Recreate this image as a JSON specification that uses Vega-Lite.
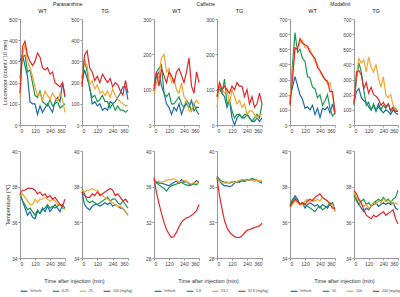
{
"$schema":"https://vega.github.io/schema/vega-lite/v6.json",
"padding":{"left":2,"top":1,"right":2,"bottom":0},
"config":{"font":"Liberation Sans","view":{"stroke":null},
"axis":{"grid":false,"labelFontSize":5,"titleFontSize":5.5,"titleFontWeight":"normal","domainColor":"#999","tickColor":"#999","tickSize":2,"labelColor":"#444","titleColor":"#333","labelPadding":1,"titlePadding":1},
"title":{"fontSize":5.5,"fontWeight":"normal","offset":3,"color":"#222","anchor":"middle"},
"legend":{"labelFontSize":3.6,"symbolType":"stroke","symbolStrokeWidth":1.5,"symbolSize":45,"columnPadding":8,"labelOffset":2,"padding":0,"offset":3,"labelColor":"#444"},
"line":{"strokeWidth":1.2}},
"data":{"values":[
{"d":"P","g":"WT","s":"Vehicle","t":0,"L":300,"T":37.6},{"d":"P","g":"WT","s":"Vehicle","t":20,"L":330,"T":37.2},{"d":"P","g":"WT","s":"Vehicle","t":40,"L":280,"T":36.8},{"d":"P","g":"WT","s":"Vehicle","t":60,"L":230,"T":36.4},{"d":"P","g":"WT","s":"Vehicle","t":80,"L":110,"T":36.6},{"d":"P","g":"WT","s":"Vehicle","t":100,"L":100,"T":36.3},{"d":"P","g":"WT","s":"Vehicle","t":120,"L":100,"T":36.2},{"d":"P","g":"WT","s":"Vehicle","t":140,"L":50,"T":36.6},{"d":"P","g":"WT","s":"Vehicle","t":160,"L":90,"T":36.5},{"d":"P","g":"WT","s":"Vehicle","t":180,"L":60,"T":36.8},{"d":"P","g":"WT","s":"Vehicle","t":200,"L":80,"T":36.6},{"d":"P","g":"WT","s":"Vehicle","t":220,"L":100,"T":36.9},{"d":"P","g":"WT","s":"Vehicle","t":240,"L":80,"T":36.6},{"d":"P","g":"WT","s":"Vehicle","t":260,"L":60,"T":36.8},{"d":"P","g":"WT","s":"Vehicle","t":280,"L":110,"T":37.0},{"d":"P","g":"WT","s":"Vehicle","t":300,"L":130,"T":36.8},{"d":"P","g":"WT","s":"Vehicle","t":320,"L":110,"T":36.6},{"d":"P","g":"WT","s":"Vehicle","t":340,"L":200,"T":37.0},{"d":"P","g":"WT","s":"Vehicle","t":360,"L":130,"T":36.8},
{"d":"P","g":"WT","s":"6.25","t":0,"L":220,"T":37.6},{"d":"P","g":"WT","s":"6.25","t":20,"L":320,"T":37.2},{"d":"P","g":"WT","s":"6.25","t":40,"L":330,"T":37.0},{"d":"P","g":"WT","s":"6.25","t":60,"L":250,"T":36.7},{"d":"P","g":"WT","s":"6.25","t":80,"L":260,"T":36.8},{"d":"P","g":"WT","s":"6.25","t":100,"L":200,"T":36.6},{"d":"P","g":"WT","s":"6.25","t":120,"L":140,"T":36.4},{"d":"P","g":"WT","s":"6.25","t":140,"L":130,"T":36.7},{"d":"P","g":"WT","s":"6.25","t":160,"L":160,"T":36.5},{"d":"P","g":"WT","s":"6.25","t":180,"L":110,"T":36.7},{"d":"P","g":"WT","s":"6.25","t":200,"L":100,"T":36.8},{"d":"P","g":"WT","s":"6.25","t":220,"L":90,"T":37.0},{"d":"P","g":"WT","s":"6.25","t":240,"L":120,"T":36.8},{"d":"P","g":"WT","s":"6.25","t":260,"L":90,"T":36.9},{"d":"P","g":"WT","s":"6.25","t":280,"L":100,"T":36.8},{"d":"P","g":"WT","s":"6.25","t":300,"L":110,"T":36.9},{"d":"P","g":"WT","s":"6.25","t":320,"L":80,"T":37.0},{"d":"P","g":"WT","s":"6.25","t":340,"L":90,"T":36.8},{"d":"P","g":"WT","s":"6.25","t":360,"L":100,"T":36.8},
{"d":"P","g":"WT","s":"25","t":0,"L":130,"T":37.5},{"d":"P","g":"WT","s":"25","t":20,"L":330,"T":37.6},{"d":"P","g":"WT","s":"25","t":40,"L":380,"T":37.4},{"d":"P","g":"WT","s":"25","t":60,"L":300,"T":37.2},{"d":"P","g":"WT","s":"25","t":80,"L":270,"T":37.0},{"d":"P","g":"WT","s":"25","t":100,"L":230,"T":37.0},{"d":"P","g":"WT","s":"25","t":120,"L":180,"T":37.3},{"d":"P","g":"WT","s":"25","t":140,"L":140,"T":37.1},{"d":"P","g":"WT","s":"25","t":160,"L":150,"T":37.3},{"d":"P","g":"WT","s":"25","t":180,"L":120,"T":37.3},{"d":"P","g":"WT","s":"25","t":200,"L":160,"T":37.4},{"d":"P","g":"WT","s":"25","t":220,"L":140,"T":37.3},{"d":"P","g":"WT","s":"25","t":240,"L":120,"T":37.2},{"d":"P","g":"WT","s":"25","t":260,"L":150,"T":37.3},{"d":"P","g":"WT","s":"25","t":280,"L":130,"T":37.2},{"d":"P","g":"WT","s":"25","t":300,"L":110,"T":37.0},{"d":"P","g":"WT","s":"25","t":320,"L":150,"T":37.0},{"d":"P","g":"WT","s":"25","t":340,"L":120,"T":36.9},{"d":"P","g":"WT","s":"25","t":360,"L":60,"T":36.7},
{"d":"P","g":"WT","s":"100 (mg/kg)","t":0,"L":150,"T":37.6},{"d":"P","g":"WT","s":"100 (mg/kg)","t":20,"L":370,"T":37.8},{"d":"P","g":"WT","s":"100 (mg/kg)","t":40,"L":395,"T":37.8},{"d":"P","g":"WT","s":"100 (mg/kg)","t":60,"L":330,"T":37.9},{"d":"P","g":"WT","s":"100 (mg/kg)","t":80,"L":300,"T":37.9},{"d":"P","g":"WT","s":"100 (mg/kg)","t":100,"L":280,"T":37.9},{"d":"P","g":"WT","s":"100 (mg/kg)","t":120,"L":300,"T":37.8},{"d":"P","g":"WT","s":"100 (mg/kg)","t":140,"L":340,"T":37.6},{"d":"P","g":"WT","s":"100 (mg/kg)","t":160,"L":320,"T":37.7},{"d":"P","g":"WT","s":"100 (mg/kg)","t":180,"L":270,"T":37.5},{"d":"P","g":"WT","s":"100 (mg/kg)","t":200,"L":260,"T":37.6},{"d":"P","g":"WT","s":"100 (mg/kg)","t":220,"L":270,"T":37.4},{"d":"P","g":"WT","s":"100 (mg/kg)","t":240,"L":240,"T":37.5},{"d":"P","g":"WT","s":"100 (mg/kg)","t":260,"L":250,"T":37.3},{"d":"P","g":"WT","s":"100 (mg/kg)","t":280,"L":200,"T":37.4},{"d":"P","g":"WT","s":"100 (mg/kg)","t":300,"L":190,"T":37.2},{"d":"P","g":"WT","s":"100 (mg/kg)","t":320,"L":180,"T":37.0},{"d":"P","g":"WT","s":"100 (mg/kg)","t":340,"L":200,"T":36.9},{"d":"P","g":"WT","s":"100 (mg/kg)","t":360,"L":140,"T":37.3},
{"d":"P","g":"TG","s":"Vehicle","t":0,"L":200,"T":37.7},{"d":"P","g":"TG","s":"Vehicle","t":20,"L":260,"T":37.0},{"d":"P","g":"TG","s":"Vehicle","t":40,"L":220,"T":36.8},{"d":"P","g":"TG","s":"Vehicle","t":60,"L":180,"T":36.7},{"d":"P","g":"TG","s":"Vehicle","t":80,"L":100,"T":36.9},{"d":"P","g":"TG","s":"Vehicle","t":100,"L":110,"T":37.0},{"d":"P","g":"TG","s":"Vehicle","t":120,"L":90,"T":37.0},{"d":"P","g":"TG","s":"Vehicle","t":140,"L":100,"T":36.9},{"d":"P","g":"TG","s":"Vehicle","t":160,"L":70,"T":37.0},{"d":"P","g":"TG","s":"Vehicle","t":180,"L":80,"T":37.1},{"d":"P","g":"TG","s":"Vehicle","t":200,"L":70,"T":37.0},{"d":"P","g":"TG","s":"Vehicle","t":220,"L":110,"T":37.1},{"d":"P","g":"TG","s":"Vehicle","t":240,"L":100,"T":36.9},{"d":"P","g":"TG","s":"Vehicle","t":260,"L":110,"T":37.0},{"d":"P","g":"TG","s":"Vehicle","t":280,"L":130,"T":36.9},{"d":"P","g":"TG","s":"Vehicle","t":300,"L":150,"T":36.8},{"d":"P","g":"TG","s":"Vehicle","t":320,"L":180,"T":36.8},{"d":"P","g":"TG","s":"Vehicle","t":340,"L":180,"T":36.6},{"d":"P","g":"TG","s":"Vehicle","t":360,"L":120,"T":36.4},
{"d":"P","g":"TG","s":"6.25","t":0,"L":220,"T":37.9},{"d":"P","g":"TG","s":"6.25","t":20,"L":310,"T":37.6},{"d":"P","g":"TG","s":"6.25","t":40,"L":250,"T":37.2},{"d":"P","g":"TG","s":"6.25","t":60,"L":170,"T":37.1},{"d":"P","g":"TG","s":"6.25","t":80,"L":130,"T":37.2},{"d":"P","g":"TG","s":"6.25","t":100,"L":140,"T":37.1},{"d":"P","g":"TG","s":"6.25","t":120,"L":110,"T":37.0},{"d":"P","g":"TG","s":"6.25","t":140,"L":120,"T":37.1},{"d":"P","g":"TG","s":"6.25","t":160,"L":140,"T":37.2},{"d":"P","g":"TG","s":"6.25","t":180,"L":110,"T":37.3},{"d":"P","g":"TG","s":"6.25","t":200,"L":110,"T":37.4},{"d":"P","g":"TG","s":"6.25","t":220,"L":80,"T":37.2},{"d":"P","g":"TG","s":"6.25","t":240,"L":100,"T":37.3},{"d":"P","g":"TG","s":"6.25","t":260,"L":70,"T":37.3},{"d":"P","g":"TG","s":"6.25","t":280,"L":90,"T":37.1},{"d":"P","g":"TG","s":"6.25","t":300,"L":70,"T":37.0},{"d":"P","g":"TG","s":"6.25","t":320,"L":70,"T":37.2},{"d":"P","g":"TG","s":"6.25","t":340,"L":60,"T":37.0},{"d":"P","g":"TG","s":"6.25","t":360,"L":70,"T":36.8},
{"d":"P","g":"TG","s":"25","t":0,"L":230,"T":37.8},{"d":"P","g":"TG","s":"25","t":20,"L":300,"T":37.7},{"d":"P","g":"TG","s":"25","t":40,"L":280,"T":37.8},{"d":"P","g":"TG","s":"25","t":60,"L":190,"T":37.8},{"d":"P","g":"TG","s":"25","t":80,"L":210,"T":37.9},{"d":"P","g":"TG","s":"25","t":100,"L":170,"T":37.8},{"d":"P","g":"TG","s":"25","t":120,"L":190,"T":37.8},{"d":"P","g":"TG","s":"25","t":140,"L":150,"T":37.6},{"d":"P","g":"TG","s":"25","t":160,"L":160,"T":37.5},{"d":"P","g":"TG","s":"25","t":180,"L":140,"T":37.4},{"d":"P","g":"TG","s":"25","t":200,"L":160,"T":37.3},{"d":"P","g":"TG","s":"25","t":220,"L":130,"T":37.2},{"d":"P","g":"TG","s":"25","t":240,"L":170,"T":37.1},{"d":"P","g":"TG","s":"25","t":260,"L":140,"T":37.0},{"d":"P","g":"TG","s":"25","t":280,"L":120,"T":36.9},{"d":"P","g":"TG","s":"25","t":300,"L":110,"T":36.9},{"d":"P","g":"TG","s":"25","t":320,"L":100,"T":36.8},{"d":"P","g":"TG","s":"25","t":340,"L":90,"T":36.6},{"d":"P","g":"TG","s":"25","t":360,"L":90,"T":36.4},
{"d":"P","g":"TG","s":"100 (mg/kg)","t":0,"L":180,"T":37.7},{"d":"P","g":"TG","s":"100 (mg/kg)","t":20,"L":330,"T":37.5},{"d":"P","g":"TG","s":"100 (mg/kg)","t":40,"L":350,"T":37.4},{"d":"P","g":"TG","s":"100 (mg/kg)","t":60,"L":270,"T":37.4},{"d":"P","g":"TG","s":"100 (mg/kg)","t":80,"L":250,"T":37.6},{"d":"P","g":"TG","s":"100 (mg/kg)","t":100,"L":210,"T":37.5},{"d":"P","g":"TG","s":"100 (mg/kg)","t":120,"L":230,"T":37.7},{"d":"P","g":"TG","s":"100 (mg/kg)","t":140,"L":200,"T":37.5},{"d":"P","g":"TG","s":"100 (mg/kg)","t":160,"L":240,"T":37.6},{"d":"P","g":"TG","s":"100 (mg/kg)","t":180,"L":220,"T":37.7},{"d":"P","g":"TG","s":"100 (mg/kg)","t":200,"L":200,"T":37.8},{"d":"P","g":"TG","s":"100 (mg/kg)","t":220,"L":220,"T":37.9},{"d":"P","g":"TG","s":"100 (mg/kg)","t":240,"L":180,"T":37.8},{"d":"P","g":"TG","s":"100 (mg/kg)","t":260,"L":200,"T":37.5},{"d":"P","g":"TG","s":"100 (mg/kg)","t":280,"L":190,"T":37.6},{"d":"P","g":"TG","s":"100 (mg/kg)","t":300,"L":160,"T":37.4},{"d":"P","g":"TG","s":"100 (mg/kg)","t":320,"L":140,"T":37.2},{"d":"P","g":"TG","s":"100 (mg/kg)","t":340,"L":210,"T":37.3},{"d":"P","g":"TG","s":"100 (mg/kg)","t":360,"L":150,"T":37.1},
{"d":"C","g":"WT","s":"Vehicle","t":0,"L":100,"T":36.8},{"d":"C","g":"WT","s":"Vehicle","t":20,"L":140,"T":36.5},{"d":"C","g":"WT","s":"Vehicle","t":40,"L":150,"T":36.4},{"d":"C","g":"WT","s":"Vehicle","t":60,"L":110,"T":36.4},{"d":"C","g":"WT","s":"Vehicle","t":80,"L":90,"T":36.3},{"d":"C","g":"WT","s":"Vehicle","t":100,"L":60,"T":36.2},{"d":"C","g":"WT","s":"Vehicle","t":120,"L":50,"T":36.1},{"d":"C","g":"WT","s":"Vehicle","t":140,"L":30,"T":36.3},{"d":"C","g":"WT","s":"Vehicle","t":160,"L":50,"T":36.5},{"d":"C","g":"WT","s":"Vehicle","t":180,"L":40,"T":36.6},{"d":"C","g":"WT","s":"Vehicle","t":200,"L":60,"T":36.4},{"d":"C","g":"WT","s":"Vehicle","t":220,"L":30,"T":36.8},{"d":"C","g":"WT","s":"Vehicle","t":240,"L":50,"T":36.5},{"d":"C","g":"WT","s":"Vehicle","t":260,"L":60,"T":36.6},{"d":"C","g":"WT","s":"Vehicle","t":280,"L":50,"T":36.3},{"d":"C","g":"WT","s":"Vehicle","t":300,"L":70,"T":36.2},{"d":"C","g":"WT","s":"Vehicle","t":320,"L":40,"T":36.4},{"d":"C","g":"WT","s":"Vehicle","t":340,"L":50,"T":36.7},{"d":"C","g":"WT","s":"Vehicle","t":360,"L":50,"T":36.5},
{"d":"C","g":"WT","s":"5.8","t":0,"L":110,"T":36.8},{"d":"C","g":"WT","s":"5.8","t":20,"L":150,"T":36.4},{"d":"C","g":"WT","s":"5.8","t":40,"L":160,"T":36.2},{"d":"C","g":"WT","s":"5.8","t":60,"L":170,"T":36.0},{"d":"C","g":"WT","s":"5.8","t":80,"L":90,"T":35.8},{"d":"C","g":"WT","s":"5.8","t":100,"L":80,"T":35.5},{"d":"C","g":"WT","s":"5.8","t":120,"L":90,"T":35.9},{"d":"C","g":"WT","s":"5.8","t":140,"L":60,"T":36.1},{"d":"C","g":"WT","s":"5.8","t":160,"L":60,"T":36.2},{"d":"C","g":"WT","s":"5.8","t":180,"L":70,"T":36.3},{"d":"C","g":"WT","s":"5.8","t":200,"L":80,"T":36.4},{"d":"C","g":"WT","s":"5.8","t":220,"L":60,"T":36.5},{"d":"C","g":"WT","s":"5.8","t":240,"L":50,"T":36.3},{"d":"C","g":"WT","s":"5.8","t":260,"L":70,"T":36.2},{"d":"C","g":"WT","s":"5.8","t":280,"L":60,"T":36.1},{"d":"C","g":"WT","s":"5.8","t":300,"L":40,"T":36.2},{"d":"C","g":"WT","s":"5.8","t":320,"L":60,"T":36.3},{"d":"C","g":"WT","s":"5.8","t":340,"L":40,"T":36.2},{"d":"C","g":"WT","s":"5.8","t":360,"L":30,"T":36.5},
{"d":"C","g":"WT","s":"23.2","t":0,"L":90,"T":36.8},{"d":"C","g":"WT","s":"23.2","t":20,"L":120,"T":36.6},{"d":"C","g":"WT","s":"23.2","t":40,"L":140,"T":36.6},{"d":"C","g":"WT","s":"23.2","t":60,"L":190,"T":36.5},{"d":"C","g":"WT","s":"23.2","t":80,"L":200,"T":36.6},{"d":"C","g":"WT","s":"23.2","t":100,"L":150,"T":36.7},{"d":"C","g":"WT","s":"23.2","t":120,"L":160,"T":36.8},{"d":"C","g":"WT","s":"23.2","t":140,"L":120,"T":36.8},{"d":"C","g":"WT","s":"23.2","t":160,"L":130,"T":36.9},{"d":"C","g":"WT","s":"23.2","t":180,"L":100,"T":36.7},{"d":"C","g":"WT","s":"23.2","t":200,"L":90,"T":36.5},{"d":"C","g":"WT","s":"23.2","t":220,"L":120,"T":36.6},{"d":"C","g":"WT","s":"23.2","t":240,"L":80,"T":36.7},{"d":"C","g":"WT","s":"23.2","t":260,"L":70,"T":36.6},{"d":"C","g":"WT","s":"23.2","t":280,"L":40,"T":36.4},{"d":"C","g":"WT","s":"23.2","t":300,"L":40,"T":36.3},{"d":"C","g":"WT","s":"23.2","t":320,"L":60,"T":36.5},{"d":"C","g":"WT","s":"23.2","t":340,"L":70,"T":36.4},{"d":"C","g":"WT","s":"23.2","t":360,"L":60,"T":36.4},
{"d":"C","g":"WT","s":"92.8 (mg/kg)","t":0,"L":100,"T":37.0},{"d":"C","g":"WT","s":"92.8 (mg/kg)","t":20,"L":150,"T":35.3},{"d":"C","g":"WT","s":"92.8 (mg/kg)","t":40,"L":110,"T":34.1},{"d":"C","g":"WT","s":"92.8 (mg/kg)","t":60,"L":160,"T":33.0},{"d":"C","g":"WT","s":"92.8 (mg/kg)","t":80,"L":140,"T":32.0},{"d":"C","g":"WT","s":"92.8 (mg/kg)","t":100,"L":120,"T":31.2},{"d":"C","g":"WT","s":"92.8 (mg/kg)","t":120,"L":150,"T":30.7},{"d":"C","g":"WT","s":"92.8 (mg/kg)","t":140,"L":140,"T":30.3},{"d":"C","g":"WT","s":"92.8 (mg/kg)","t":160,"L":120,"T":30.4},{"d":"C","g":"WT","s":"92.8 (mg/kg)","t":180,"L":150,"T":30.9},{"d":"C","g":"WT","s":"92.8 (mg/kg)","t":200,"L":160,"T":31.5},{"d":"C","g":"WT","s":"92.8 (mg/kg)","t":220,"L":140,"T":32.0},{"d":"C","g":"WT","s":"92.8 (mg/kg)","t":240,"L":120,"T":32.3},{"d":"C","g":"WT","s":"92.8 (mg/kg)","t":260,"L":150,"T":32.5},{"d":"C","g":"WT","s":"92.8 (mg/kg)","t":280,"L":190,"T":32.6},{"d":"C","g":"WT","s":"92.8 (mg/kg)","t":300,"L":110,"T":32.8},{"d":"C","g":"WT","s":"92.8 (mg/kg)","t":320,"L":90,"T":33.0},{"d":"C","g":"WT","s":"92.8 (mg/kg)","t":340,"L":150,"T":33.3},{"d":"C","g":"WT","s":"92.8 (mg/kg)","t":360,"L":120,"T":34.0},
{"d":"C","g":"TG","s":"Vehicle","t":0,"L":100,"T":37.0},{"d":"C","g":"TG","s":"Vehicle","t":20,"L":100,"T":36.6},{"d":"C","g":"TG","s":"Vehicle","t":40,"L":90,"T":36.3},{"d":"C","g":"TG","s":"Vehicle","t":60,"L":80,"T":36.1},{"d":"C","g":"TG","s":"Vehicle","t":80,"L":50,"T":36.1},{"d":"C","g":"TG","s":"Vehicle","t":100,"L":70,"T":36.0},{"d":"C","g":"TG","s":"Vehicle","t":120,"L":20,"T":36.1},{"d":"C","g":"TG","s":"Vehicle","t":140,"L":0,"T":36.4},{"d":"C","g":"TG","s":"Vehicle","t":160,"L":20,"T":36.6},{"d":"C","g":"TG","s":"Vehicle","t":180,"L":30,"T":36.5},{"d":"C","g":"TG","s":"Vehicle","t":200,"L":20,"T":36.7},{"d":"C","g":"TG","s":"Vehicle","t":220,"L":20,"T":36.6},{"d":"C","g":"TG","s":"Vehicle","t":240,"L":30,"T":36.8},{"d":"C","g":"TG","s":"Vehicle","t":260,"L":20,"T":36.7},{"d":"C","g":"TG","s":"Vehicle","t":280,"L":10,"T":36.9},{"d":"C","g":"TG","s":"Vehicle","t":300,"L":10,"T":36.8},{"d":"C","g":"TG","s":"Vehicle","t":320,"L":20,"T":36.7},{"d":"C","g":"TG","s":"Vehicle","t":340,"L":10,"T":36.6},{"d":"C","g":"TG","s":"Vehicle","t":360,"L":20,"T":36.5},
{"d":"C","g":"TG","s":"5.8","t":0,"L":80,"T":37.2},{"d":"C","g":"TG","s":"5.8","t":20,"L":110,"T":36.8},{"d":"C","g":"TG","s":"5.8","t":40,"L":90,"T":36.6},{"d":"C","g":"TG","s":"5.8","t":60,"L":130,"T":36.5},{"d":"C","g":"TG","s":"5.8","t":80,"L":60,"T":36.5},{"d":"C","g":"TG","s":"5.8","t":100,"L":70,"T":36.4},{"d":"C","g":"TG","s":"5.8","t":120,"L":40,"T":36.5},{"d":"C","g":"TG","s":"5.8","t":140,"L":20,"T":36.6},{"d":"C","g":"TG","s":"5.8","t":160,"L":30,"T":36.5},{"d":"C","g":"TG","s":"5.8","t":180,"L":30,"T":36.6},{"d":"C","g":"TG","s":"5.8","t":200,"L":20,"T":36.7},{"d":"C","g":"TG","s":"5.8","t":220,"L":30,"T":36.6},{"d":"C","g":"TG","s":"5.8","t":240,"L":30,"T":36.7},{"d":"C","g":"TG","s":"5.8","t":260,"L":20,"T":36.8},{"d":"C","g":"TG","s":"5.8","t":280,"L":10,"T":36.9},{"d":"C","g":"TG","s":"5.8","t":300,"L":20,"T":36.8},{"d":"C","g":"TG","s":"5.8","t":320,"L":30,"T":36.7},{"d":"C","g":"TG","s":"5.8","t":340,"L":20,"T":36.5},{"d":"C","g":"TG","s":"5.8","t":360,"L":60,"T":36.4},
{"d":"C","g":"TG","s":"23.2","t":0,"L":50,"T":37.0},{"d":"C","g":"TG","s":"23.2","t":20,"L":120,"T":36.6},{"d":"C","g":"TG","s":"23.2","t":40,"L":100,"T":36.5},{"d":"C","g":"TG","s":"23.2","t":60,"L":90,"T":36.4},{"d":"C","g":"TG","s":"23.2","t":80,"L":100,"T":36.4},{"d":"C","g":"TG","s":"23.2","t":100,"L":60,"T":36.5},{"d":"C","g":"TG","s":"23.2","t":120,"L":100,"T":36.6},{"d":"C","g":"TG","s":"23.2","t":140,"L":80,"T":36.5},{"d":"C","g":"TG","s":"23.2","t":160,"L":60,"T":36.6},{"d":"C","g":"TG","s":"23.2","t":180,"L":70,"T":36.7},{"d":"C","g":"TG","s":"23.2","t":200,"L":50,"T":36.8},{"d":"C","g":"TG","s":"23.2","t":220,"L":60,"T":36.8},{"d":"C","g":"TG","s":"23.2","t":240,"L":30,"T":36.7},{"d":"C","g":"TG","s":"23.2","t":260,"L":40,"T":36.8},{"d":"C","g":"TG","s":"23.2","t":280,"L":40,"T":36.7},{"d":"C","g":"TG","s":"23.2","t":300,"L":30,"T":36.6},{"d":"C","g":"TG","s":"23.2","t":320,"L":20,"T":36.7},{"d":"C","g":"TG","s":"23.2","t":340,"L":30,"T":36.6},{"d":"C","g":"TG","s":"23.2","t":360,"L":30,"T":36.7},
{"d":"C","g":"TG","s":"92.8 (mg/kg)","t":0,"L":80,"T":37.0},{"d":"C","g":"TG","s":"92.8 (mg/kg)","t":20,"L":120,"T":35.0},{"d":"C","g":"TG","s":"92.8 (mg/kg)","t":40,"L":100,"T":33.5},{"d":"C","g":"TG","s":"92.8 (mg/kg)","t":60,"L":110,"T":32.2},{"d":"C","g":"TG","s":"92.8 (mg/kg)","t":80,"L":100,"T":31.4},{"d":"C","g":"TG","s":"92.8 (mg/kg)","t":100,"L":90,"T":30.9},{"d":"C","g":"TG","s":"92.8 (mg/kg)","t":120,"L":110,"T":30.6},{"d":"C","g":"TG","s":"92.8 (mg/kg)","t":140,"L":100,"T":30.4},{"d":"C","g":"TG","s":"92.8 (mg/kg)","t":160,"L":120,"T":30.3},{"d":"C","g":"TG","s":"92.8 (mg/kg)","t":180,"L":110,"T":30.3},{"d":"C","g":"TG","s":"92.8 (mg/kg)","t":200,"L":110,"T":30.5},{"d":"C","g":"TG","s":"92.8 (mg/kg)","t":220,"L":80,"T":30.8},{"d":"C","g":"TG","s":"92.8 (mg/kg)","t":240,"L":100,"T":31.1},{"d":"C","g":"TG","s":"92.8 (mg/kg)","t":260,"L":60,"T":31.2},{"d":"C","g":"TG","s":"92.8 (mg/kg)","t":280,"L":80,"T":31.3},{"d":"C","g":"TG","s":"92.8 (mg/kg)","t":300,"L":50,"T":31.4},{"d":"C","g":"TG","s":"92.8 (mg/kg)","t":320,"L":60,"T":31.5},{"d":"C","g":"TG","s":"92.8 (mg/kg)","t":340,"L":90,"T":31.6},{"d":"C","g":"TG","s":"92.8 (mg/kg)","t":360,"L":60,"T":31.9},
{"d":"M","g":"WT","s":"Vehicle","t":0,"L":180,"T":36.9},{"d":"M","g":"WT","s":"Vehicle","t":20,"L":250,"T":37.2},{"d":"M","g":"WT","s":"Vehicle","t":40,"L":320,"T":37.5},{"d":"M","g":"WT","s":"Vehicle","t":60,"L":260,"T":37.3},{"d":"M","g":"WT","s":"Vehicle","t":80,"L":200,"T":37.0},{"d":"M","g":"WT","s":"Vehicle","t":100,"L":170,"T":37.1},{"d":"M","g":"WT","s":"Vehicle","t":120,"L":110,"T":36.8},{"d":"M","g":"WT","s":"Vehicle","t":140,"L":120,"T":37.0},{"d":"M","g":"WT","s":"Vehicle","t":160,"L":100,"T":37.1},{"d":"M","g":"WT","s":"Vehicle","t":180,"L":130,"T":37.0},{"d":"M","g":"WT","s":"Vehicle","t":200,"L":70,"T":36.9},{"d":"M","g":"WT","s":"Vehicle","t":220,"L":110,"T":37.0},{"d":"M","g":"WT","s":"Vehicle","t":240,"L":50,"T":36.8},{"d":"M","g":"WT","s":"Vehicle","t":260,"L":110,"T":37.0},{"d":"M","g":"WT","s":"Vehicle","t":280,"L":100,"T":36.9},{"d":"M","g":"WT","s":"Vehicle","t":300,"L":120,"T":36.8},{"d":"M","g":"WT","s":"Vehicle","t":320,"L":80,"T":37.0},{"d":"M","g":"WT","s":"Vehicle","t":340,"L":140,"T":37.1},{"d":"M","g":"WT","s":"Vehicle","t":360,"L":70,"T":36.7},
{"d":"M","g":"WT","s":"50","t":0,"L":140,"T":37.0},{"d":"M","g":"WT","s":"50","t":20,"L":400,"T":37.3},{"d":"M","g":"WT","s":"50","t":40,"L":610,"T":37.4},{"d":"M","g":"WT","s":"50","t":60,"L":480,"T":37.1},{"d":"M","g":"WT","s":"50","t":80,"L":500,"T":37.0},{"d":"M","g":"WT","s":"50","t":100,"L":440,"T":37.1},{"d":"M","g":"WT","s":"50","t":120,"L":420,"T":37.0},{"d":"M","g":"WT","s":"50","t":140,"L":320,"T":36.9},{"d":"M","g":"WT","s":"50","t":160,"L":310,"T":36.8},{"d":"M","g":"WT","s":"50","t":180,"L":250,"T":36.7},{"d":"M","g":"WT","s":"50","t":200,"L":240,"T":36.6},{"d":"M","g":"WT","s":"50","t":220,"L":180,"T":36.8},{"d":"M","g":"WT","s":"50","t":240,"L":200,"T":36.9},{"d":"M","g":"WT","s":"50","t":260,"L":130,"T":36.7},{"d":"M","g":"WT","s":"50","t":280,"L":160,"T":36.8},{"d":"M","g":"WT","s":"50","t":300,"L":200,"T":36.9},{"d":"M","g":"WT","s":"50","t":320,"L":110,"T":37.1},{"d":"M","g":"WT","s":"50","t":340,"L":60,"T":37.0},{"d":"M","g":"WT","s":"50","t":360,"L":80,"T":36.6},
{"d":"M","g":"WT","s":"100","t":0,"L":170,"T":36.8},{"d":"M","g":"WT","s":"100","t":20,"L":350,"T":37.0},{"d":"M","g":"WT","s":"100","t":40,"L":500,"T":37.2},{"d":"M","g":"WT","s":"100","t":60,"L":520,"T":37.1},{"d":"M","g":"WT","s":"100","t":80,"L":540,"T":37.0},{"d":"M","g":"WT","s":"100","t":100,"L":560,"T":37.0},{"d":"M","g":"WT","s":"100","t":120,"L":510,"T":37.2},{"d":"M","g":"WT","s":"100","t":140,"L":510,"T":37.3},{"d":"M","g":"WT","s":"100","t":160,"L":500,"T":37.1},{"d":"M","g":"WT","s":"100","t":180,"L":460,"T":37.3},{"d":"M","g":"WT","s":"100","t":200,"L":420,"T":37.2},{"d":"M","g":"WT","s":"100","t":220,"L":400,"T":37.3},{"d":"M","g":"WT","s":"100","t":240,"L":350,"T":37.2},{"d":"M","g":"WT","s":"100","t":260,"L":320,"T":37.4},{"d":"M","g":"WT","s":"100","t":280,"L":300,"T":37.3},{"d":"M","g":"WT","s":"100","t":300,"L":270,"T":37.2},{"d":"M","g":"WT","s":"100","t":320,"L":280,"T":37.0},{"d":"M","g":"WT","s":"100","t":340,"L":200,"T":37.0},{"d":"M","g":"WT","s":"100","t":360,"L":80,"T":36.6},
{"d":"M","g":"WT","s":"200 (mg/kg)","t":0,"L":130,"T":36.9},{"d":"M","g":"WT","s":"200 (mg/kg)","t":20,"L":300,"T":37.1},{"d":"M","g":"WT","s":"200 (mg/kg)","t":40,"L":510,"T":37.3},{"d":"M","g":"WT","s":"200 (mg/kg)","t":60,"L":500,"T":37.2},{"d":"M","g":"WT","s":"200 (mg/kg)","t":80,"L":570,"T":37.0},{"d":"M","g":"WT","s":"200 (mg/kg)","t":100,"L":540,"T":37.1},{"d":"M","g":"WT","s":"200 (mg/kg)","t":120,"L":530,"T":37.0},{"d":"M","g":"WT","s":"200 (mg/kg)","t":140,"L":520,"T":37.2},{"d":"M","g":"WT","s":"200 (mg/kg)","t":160,"L":480,"T":37.3},{"d":"M","g":"WT","s":"200 (mg/kg)","t":180,"L":460,"T":37.2},{"d":"M","g":"WT","s":"200 (mg/kg)","t":200,"L":440,"T":37.4},{"d":"M","g":"WT","s":"200 (mg/kg)","t":220,"L":380,"T":37.5},{"d":"M","g":"WT","s":"200 (mg/kg)","t":240,"L":360,"T":37.6},{"d":"M","g":"WT","s":"200 (mg/kg)","t":260,"L":330,"T":37.4},{"d":"M","g":"WT","s":"200 (mg/kg)","t":280,"L":300,"T":37.3},{"d":"M","g":"WT","s":"200 (mg/kg)","t":300,"L":290,"T":37.2},{"d":"M","g":"WT","s":"200 (mg/kg)","t":320,"L":220,"T":37.0},{"d":"M","g":"WT","s":"200 (mg/kg)","t":340,"L":220,"T":36.8},{"d":"M","g":"WT","s":"200 (mg/kg)","t":360,"L":80,"T":36.8},
{"d":"M","g":"TG","s":"Vehicle","t":0,"L":150,"T":37.5},{"d":"M","g":"TG","s":"Vehicle","t":20,"L":220,"T":37.3},{"d":"M","g":"TG","s":"Vehicle","t":40,"L":240,"T":37.0},{"d":"M","g":"TG","s":"Vehicle","t":60,"L":180,"T":36.8},{"d":"M","g":"TG","s":"Vehicle","t":80,"L":160,"T":36.6},{"d":"M","g":"TG","s":"Vehicle","t":100,"L":150,"T":36.8},{"d":"M","g":"TG","s":"Vehicle","t":120,"L":120,"T":36.7},{"d":"M","g":"TG","s":"Vehicle","t":140,"L":100,"T":36.9},{"d":"M","g":"TG","s":"Vehicle","t":160,"L":130,"T":37.0},{"d":"M","g":"TG","s":"Vehicle","t":180,"L":90,"T":37.1},{"d":"M","g":"TG","s":"Vehicle","t":200,"L":140,"T":36.9},{"d":"M","g":"TG","s":"Vehicle","t":220,"L":100,"T":37.0},{"d":"M","g":"TG","s":"Vehicle","t":240,"L":80,"T":37.1},{"d":"M","g":"TG","s":"Vehicle","t":260,"L":100,"T":37.0},{"d":"M","g":"TG","s":"Vehicle","t":280,"L":90,"T":37.1},{"d":"M","g":"TG","s":"Vehicle","t":300,"L":70,"T":37.0},{"d":"M","g":"TG","s":"Vehicle","t":320,"L":100,"T":37.1},{"d":"M","g":"TG","s":"Vehicle","t":340,"L":80,"T":36.8},{"d":"M","g":"TG","s":"Vehicle","t":360,"L":70,"T":36.7},
{"d":"M","g":"TG","s":"50","t":0,"L":130,"T":37.6},{"d":"M","g":"TG","s":"50","t":20,"L":300,"T":37.2},{"d":"M","g":"TG","s":"50","t":40,"L":410,"T":37.0},{"d":"M","g":"TG","s":"50","t":60,"L":350,"T":37.2},{"d":"M","g":"TG","s":"50","t":80,"L":230,"T":37.3},{"d":"M","g":"TG","s":"50","t":100,"L":130,"T":37.0},{"d":"M","g":"TG","s":"50","t":120,"L":150,"T":37.1},{"d":"M","g":"TG","s":"50","t":140,"L":100,"T":36.9},{"d":"M","g":"TG","s":"50","t":160,"L":140,"T":37.1},{"d":"M","g":"TG","s":"50","t":180,"L":100,"T":37.2},{"d":"M","g":"TG","s":"50","t":200,"L":120,"T":37.3},{"d":"M","g":"TG","s":"50","t":220,"L":100,"T":37.2},{"d":"M","g":"TG","s":"50","t":240,"L":130,"T":37.4},{"d":"M","g":"TG","s":"50","t":260,"L":110,"T":37.2},{"d":"M","g":"TG","s":"50","t":280,"L":140,"T":37.3},{"d":"M","g":"TG","s":"50","t":300,"L":90,"T":37.1},{"d":"M","g":"TG","s":"50","t":320,"L":120,"T":37.3},{"d":"M","g":"TG","s":"50","t":340,"L":110,"T":37.4},{"d":"M","g":"TG","s":"50","t":360,"L":90,"T":37.8},
{"d":"M","g":"TG","s":"100","t":0,"L":140,"T":37.7},{"d":"M","g":"TG","s":"100","t":20,"L":330,"T":37.4},{"d":"M","g":"TG","s":"100","t":40,"L":440,"T":37.2},{"d":"M","g":"TG","s":"100","t":60,"L":410,"T":37.0},{"d":"M","g":"TG","s":"100","t":80,"L":430,"T":36.9},{"d":"M","g":"TG","s":"100","t":100,"L":350,"T":37.0},{"d":"M","g":"TG","s":"100","t":120,"L":450,"T":36.8},{"d":"M","g":"TG","s":"100","t":140,"L":380,"T":36.9},{"d":"M","g":"TG","s":"100","t":160,"L":350,"T":37.1},{"d":"M","g":"TG","s":"100","t":180,"L":400,"T":37.0},{"d":"M","g":"TG","s":"100","t":200,"L":310,"T":37.2},{"d":"M","g":"TG","s":"100","t":220,"L":250,"T":37.1},{"d":"M","g":"TG","s":"100","t":240,"L":320,"T":37.3},{"d":"M","g":"TG","s":"100","t":260,"L":200,"T":37.2},{"d":"M","g":"TG","s":"100","t":280,"L":180,"T":37.1},{"d":"M","g":"TG","s":"100","t":300,"L":200,"T":37.2},{"d":"M","g":"TG","s":"100","t":320,"L":130,"T":37.0},{"d":"M","g":"TG","s":"100","t":340,"L":100,"T":37.1},{"d":"M","g":"TG","s":"100","t":360,"L":90,"T":37.0},
{"d":"M","g":"TG","s":"200 (mg/kg)","t":0,"L":140,"T":37.8},{"d":"M","g":"TG","s":"200 (mg/kg)","t":20,"L":350,"T":37.6},{"d":"M","g":"TG","s":"200 (mg/kg)","t":40,"L":360,"T":37.3},{"d":"M","g":"TG","s":"200 (mg/kg)","t":60,"L":330,"T":37.1},{"d":"M","g":"TG","s":"200 (mg/kg)","t":80,"L":240,"T":36.7},{"d":"M","g":"TG","s":"200 (mg/kg)","t":100,"L":280,"T":36.4},{"d":"M","g":"TG","s":"200 (mg/kg)","t":120,"L":210,"T":36.3},{"d":"M","g":"TG","s":"200 (mg/kg)","t":140,"L":250,"T":36.2},{"d":"M","g":"TG","s":"200 (mg/kg)","t":160,"L":200,"T":36.4},{"d":"M","g":"TG","s":"200 (mg/kg)","t":180,"L":190,"T":36.3},{"d":"M","g":"TG","s":"200 (mg/kg)","t":200,"L":170,"T":36.4},{"d":"M","g":"TG","s":"200 (mg/kg)","t":220,"L":130,"T":36.5},{"d":"M","g":"TG","s":"200 (mg/kg)","t":240,"L":150,"T":36.6},{"d":"M","g":"TG","s":"200 (mg/kg)","t":260,"L":120,"T":36.4},{"d":"M","g":"TG","s":"200 (mg/kg)","t":280,"L":140,"T":36.5},{"d":"M","g":"TG","s":"200 (mg/kg)","t":300,"L":100,"T":36.6},{"d":"M","g":"TG","s":"200 (mg/kg)","t":320,"L":110,"T":36.7},{"d":"M","g":"TG","s":"200 (mg/kg)","t":340,"L":90,"T":36.2},{"d":"M","g":"TG","s":"200 (mg/kg)","t":360,"L":90,"T":35.9}
]},
"resolve":{"scale":{"color":"independent"},"legend":{"color":"independent"}},
"spacing":9,
"hconcat":[
{"title":{"text":"Paraxanthine","fontSize":5,"offset":2,"fontWeight":"normal","anchor":"middle"},"spacing":16,"resolve":{"scale":{"color":"shared"}},
"vconcat":[
{"hconcat":[
{"width":45,"height":106,"title":{"text":"WT","fontWeight":"normal"},"transform":[{"filter":"datum.d=='P' && datum.g=='WT'"}],"mark":"line","encoding":{"x":{"field":"t","type":"quantitative","scale":{"domain":[0,360],"nice":false},"axis":{"values":[0,120,240,360],"title":null}},"y":{"field":"L","type":"quantitative","scale":{"domain":[0,500]},"axis":{"values":[0,100,200,300,400,500],"title":"Locomotor (count / 10 min)"}},"color":{"field":"s","type":"nominal","scale":{"domain":["Vehicle","6.25","25","100 (mg/kg)"],"range":["#1c6aa8","#1b9a4f","#f5a52f","#e2282c"]},"legend":{"title":null,"orient":"bottom","direction":"horizontal"}}}},
{"width":46,"height":106,"title":{"text":"TG","fontWeight":"normal"},"transform":[{"filter":"datum.d=='P' && datum.g=='TG'"}],"mark":"line","encoding":{"x":{"field":"t","type":"quantitative","scale":{"domain":[0,360],"nice":false},"axis":{"values":[0,120,240,360],"title":null}},"y":{"field":"L","type":"quantitative","scale":{"domain":[0,500]},"axis":{"values":[0,100,200,300,400,500],"title":null}},"color":{"field":"s","type":"nominal","scale":{"domain":["Vehicle","6.25","25","100 (mg/kg)"],"range":["#1c6aa8","#1b9a4f","#f5a52f","#e2282c"]},"legend":{"title":null,"orient":"bottom","direction":"horizontal"}}}}
],"spacing":17,"bounds":"flush"},
{"hconcat":[
{"width":45,"height":107,"transform":[{"filter":"datum.d=='P' && datum.g=='WT'"}],"mark":"line","encoding":{"x":{"field":"t","type":"quantitative","scale":{"domain":[0,360],"nice":false},"axis":{"values":[0,120,240,360],"title":"Time after injection (min)","titleX":54,"titleY":20,"titleBaseline":"top","titleAlign":"center"}},"y":{"field":"T","type":"quantitative","scale":{"domain":[34,40]},"axis":{"values":[34,36,38,40],"title":"Temperature (℃)"}},"color":{"field":"s","type":"nominal","scale":{"domain":["Vehicle","6.25","25","100 (mg/kg)"],"range":["#1c6aa8","#1b9a4f","#f5a52f","#e2282c"]},"legend":{"title":null,"orient":"bottom","direction":"horizontal"}}}},
{"width":46,"height":107,"transform":[{"filter":"datum.d=='P' && datum.g=='TG'"}],"mark":"line","encoding":{"x":{"field":"t","type":"quantitative","scale":{"domain":[0,360],"nice":false},"axis":{"values":[0,120,240,360],"title":null}},"y":{"field":"T","type":"quantitative","scale":{"domain":[34,40]},"axis":{"values":[34,36,38,40],"title":null}},"color":{"field":"s","type":"nominal","scale":{"domain":["Vehicle","6.25","25","100 (mg/kg)"],"range":["#1c6aa8","#1b9a4f","#f5a52f","#e2282c"]},"legend":{"title":null,"orient":"bottom","direction":"horizontal"}}}}
],"spacing":17,"bounds":"flush"}
]},
{"title":{"text":"Caffeine","fontSize":5,"offset":2,"fontWeight":"normal","anchor":"middle"},"spacing":16,"resolve":{"scale":{"color":"shared"}},
"vconcat":[
{"hconcat":[
{"width":45,"height":106,"title":{"text":"WT","fontWeight":"normal"},"transform":[{"filter":"datum.d=='C' && datum.g=='WT'"}],"mark":"line","encoding":{"x":{"field":"t","type":"quantitative","scale":{"domain":[0,360],"nice":false},"axis":{"values":[0,120,240,360],"title":null}},"y":{"field":"L","type":"quantitative","scale":{"domain":[0,300]},"axis":{"values":[0,100,200,300],"title":null}},"color":{"field":"s","type":"nominal","scale":{"domain":["Vehicle","5.8","23.2","92.8 (mg/kg)"],"range":["#1c6aa8","#1b9a4f","#f5a52f","#e2282c"]},"legend":{"title":null,"orient":"bottom","direction":"horizontal"}}}},
{"width":45,"height":106,"title":{"text":"TG","fontWeight":"normal"},"transform":[{"filter":"datum.d=='C' && datum.g=='TG'"}],"mark":"line","encoding":{"x":{"field":"t","type":"quantitative","scale":{"domain":[0,360],"nice":false},"axis":{"values":[0,120,240,360],"title":null}},"y":{"field":"L","type":"quantitative","scale":{"domain":[0,300]},"axis":{"values":[0,100,200,300],"title":null}},"color":{"field":"s","type":"nominal","scale":{"domain":["Vehicle","5.8","23.2","92.8 (mg/kg)"],"range":["#1c6aa8","#1b9a4f","#f5a52f","#e2282c"]},"legend":{"title":null,"orient":"bottom","direction":"horizontal"}}}}
],"spacing":18,"bounds":"flush"},
{"hconcat":[
{"width":45,"height":107,"transform":[{"filter":"datum.d=='C' && datum.g=='WT'"}],"mark":"line","encoding":{"x":{"field":"t","type":"quantitative","scale":{"domain":[0,360],"nice":false},"axis":{"values":[0,120,240,360],"title":"Time after injection (min)","titleX":54,"titleY":20,"titleBaseline":"top","titleAlign":"center"}},"y":{"field":"T","type":"quantitative","scale":{"domain":[28,40]},"axis":{"values":[28,32,36,40],"title":null}},"color":{"field":"s","type":"nominal","scale":{"domain":["Vehicle","5.8","23.2","92.8 (mg/kg)"],"range":["#1c6aa8","#1b9a4f","#f5a52f","#e2282c"]},"legend":{"title":null,"orient":"bottom","direction":"horizontal"}}}},
{"width":45,"height":107,"transform":[{"filter":"datum.d=='C' && datum.g=='TG'"}],"mark":"line","encoding":{"x":{"field":"t","type":"quantitative","scale":{"domain":[0,360],"nice":false},"axis":{"values":[0,120,240,360],"title":null}},"y":{"field":"T","type":"quantitative","scale":{"domain":[28,40]},"axis":{"values":[28,32,36,40],"title":null}},"color":{"field":"s","type":"nominal","scale":{"domain":["Vehicle","5.8","23.2","92.8 (mg/kg)"],"range":["#1c6aa8","#1b9a4f","#f5a52f","#e2282c"]},"legend":{"title":null,"orient":"bottom","direction":"horizontal"}}}}
],"spacing":18,"bounds":"flush"}
]},
{"title":{"text":"Modafinil","fontSize":5,"offset":2,"fontWeight":"normal","anchor":"middle"},"spacing":16,"resolve":{"scale":{"color":"shared"}},
"vconcat":[
{"hconcat":[
{"width":45,"height":106,"title":{"text":"WT","fontWeight":"normal"},"transform":[{"filter":"datum.d=='M' && datum.g=='WT'"}],"mark":"line","encoding":{"x":{"field":"t","type":"quantitative","scale":{"domain":[0,360],"nice":false},"axis":{"values":[0,120,240,360],"title":null}},"y":{"field":"L","type":"quantitative","scale":{"domain":[0,700]},"axis":{"values":[0,100,200,300,400,500,600,700],"title":null}},"color":{"field":"s","type":"nominal","scale":{"domain":["Vehicle","50","100","200 (mg/kg)"],"range":["#1c6aa8","#1b9a4f","#f5a52f","#e2282c"]},"legend":{"title":null,"orient":"bottom","direction":"horizontal"}}}},
{"width":44,"height":106,"title":{"text":"TG","fontWeight":"normal"},"transform":[{"filter":"datum.d=='M' && datum.g=='TG'"}],"mark":"line","encoding":{"x":{"field":"t","type":"quantitative","scale":{"domain":[0,360],"nice":false},"axis":{"values":[0,120,240,360],"title":null}},"y":{"field":"L","type":"quantitative","scale":{"domain":[0,700]},"axis":{"values":[0,100,200,300,400,500,600,700],"title":null}},"color":{"field":"s","type":"nominal","scale":{"domain":["Vehicle","50","100","200 (mg/kg)"],"range":["#1c6aa8","#1b9a4f","#f5a52f","#e2282c"]},"legend":{"title":null,"orient":"bottom","direction":"horizontal"}}}}
],"spacing":19,"bounds":"flush"},
{"hconcat":[
{"width":45,"height":107,"transform":[{"filter":"datum.d=='M' && datum.g=='WT'"}],"mark":"line","encoding":{"x":{"field":"t","type":"quantitative","scale":{"domain":[0,360],"nice":false},"axis":{"values":[0,120,240,360],"title":"Time after injection (min)","titleX":54,"titleY":20,"titleBaseline":"top","titleAlign":"center"}},"y":{"field":"T","type":"quantitative","scale":{"domain":[34,40]},"axis":{"values":[34,36,38,40],"title":null}},"color":{"field":"s","type":"nominal","scale":{"domain":["Vehicle","50","100","200 (mg/kg)"],"range":["#1c6aa8","#1b9a4f","#f5a52f","#e2282c"]},"legend":{"title":null,"orient":"bottom","direction":"horizontal"}}}},
{"width":44,"height":107,"transform":[{"filter":"datum.d=='M' && datum.g=='TG'"}],"mark":"line","encoding":{"x":{"field":"t","type":"quantitative","scale":{"domain":[0,360],"nice":false},"axis":{"values":[0,120,240,360],"title":null}},"y":{"field":"T","type":"quantitative","scale":{"domain":[34,40]},"axis":{"values":[34,36,38,40],"title":null}},"color":{"field":"s","type":"nominal","scale":{"domain":["Vehicle","50","100","200 (mg/kg)"],"range":["#1c6aa8","#1b9a4f","#f5a52f","#e2282c"]},"legend":{"title":null,"orient":"bottom","direction":"horizontal"}}}}
],"spacing":19,"bounds":"flush"}
]}
]
}
